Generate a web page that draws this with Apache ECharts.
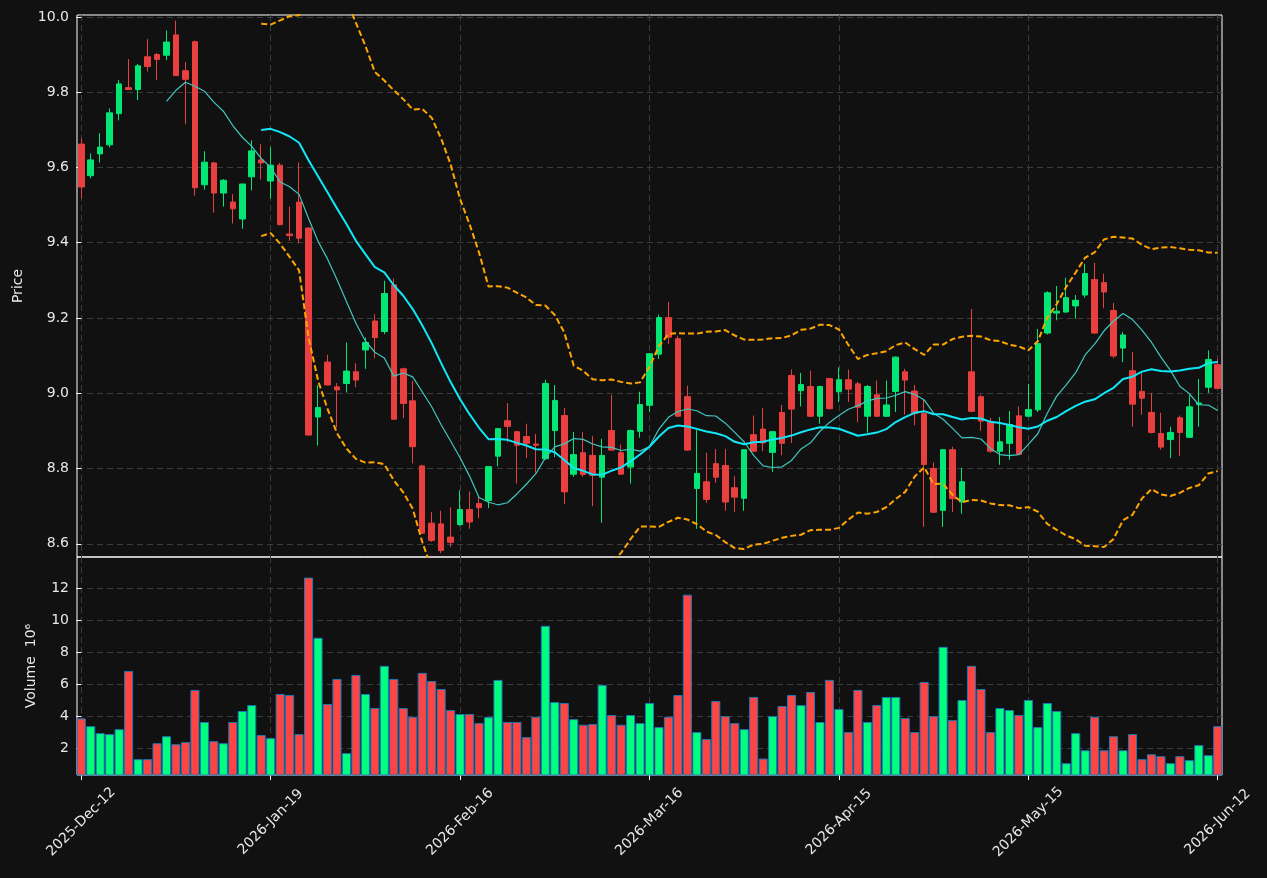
<!DOCTYPE html>
<html>
<head>
<meta charset="utf-8">
<script src="https://cdn.jsdelivr.net/npm/echarts@6/dist/echarts.min.js"></script>
<style>
html, body { margin: 0; padding: 0; background: #111111; }
#chart { width: 1267px; height: 878px; }
</style>
</head>
<body>
<div id="chart"></div>
<script>
// tick labels of the date axis, one every 20 bars
const tickLabels = ['2025-Dec-12', '2026-Jan-19', '2026-Feb-16', '2026-Mar-16', '2026-Apr-15', '2026-May-15', '2026-Jun-12'];

// daily prices
const opens = [
  9.662, 9.578, 9.636, 9.660, 9.743, 9.812, 9.807, 9.894, 9.900, 9.898,
  9.952, 9.857, 9.934, 9.554, 9.612, 9.532, 9.508, 9.463, 9.575, 9.620,
  9.564, 9.606, 9.423, 9.508, 9.439, 8.937, 9.083, 9.017, 9.026, 9.057,
  9.115, 9.192, 9.164, 9.288, 9.065, 8.980, 8.807, 8.655, 8.653, 8.618,
  8.651, 8.691, 8.707, 8.715, 8.833, 8.927, 8.898, 8.885, 8.865, 8.826,
  8.901, 8.941, 8.785, 8.842, 8.835, 8.777, 8.901, 8.842, 8.804, 8.899,
  8.968, 9.104, 9.201, 9.145, 8.991, 8.747, 8.765, 8.813, 8.808, 8.749,
  8.721, 8.890, 8.905, 8.843, 8.949, 9.047, 9.007, 9.018, 8.939, 9.039,
  9.004, 9.036, 9.025, 8.939, 8.996, 8.939, 9.005, 9.057, 9.006, 8.946,
  8.800, 8.689, 8.850, 8.711, 9.057, 8.991, 8.923, 8.846, 8.867, 8.940,
  8.939, 8.956, 9.160, 9.213, 9.216, 9.232, 9.261, 9.302, 9.294, 9.220,
  9.120, 9.060, 9.005, 8.949, 8.893, 8.877, 8.935, 8.883, 8.970, 9.016,
  9.076
];
const highs = [
  9.677, 9.637, 9.691, 9.757, 9.832, 9.888, 9.875, 9.941, 9.904, 9.964,
  9.990, 9.880, 9.937, 9.643, 9.615, 9.569, 9.529, 9.556, 9.672, 9.662,
  9.654, 9.612, 9.496, 9.613, 9.441, 9.022, 9.102, 9.027, 9.135, 9.080,
  9.148, 9.210, 9.299, 9.305, 9.068, 9.033, 8.810, 8.684, 8.688, 8.697,
  8.742, 8.739, 8.724, 8.806, 8.908, 8.974, 8.900, 8.919, 8.892, 9.036,
  9.022, 8.961, 8.897, 8.897, 8.886, 8.879, 8.996, 8.864, 8.903, 9.004,
  9.107, 9.209, 9.243, 9.153, 9.020, 8.902, 8.842, 8.852, 8.852, 8.780,
  8.852, 8.941, 8.961, 8.900, 8.969, 9.063, 9.054, 9.060, 9.020, 9.041,
  9.069, 9.063, 9.030, 9.022, 9.034, 9.034, 9.098, 9.065, 9.022, 8.983,
  8.816, 8.852, 8.858, 8.802, 9.224, 8.996, 8.935, 8.937, 8.953, 8.965,
  9.025, 9.171, 9.271, 9.285, 9.307, 9.261, 9.344, 9.347, 9.318, 9.240,
  9.163, 9.110, 9.056, 9.001, 8.948, 8.911, 8.941, 8.995, 9.038, 9.114,
  9.092
];
const lows = [
  9.517, 9.571, 9.613, 9.653, 9.725, 9.806, 9.779, 9.855, 9.832, 9.885,
  9.843, 9.715, 9.525, 9.541, 9.480, 9.496, 9.451, 9.437, 9.539, 9.568,
  9.517, 9.446, 9.405, 9.398, 8.887, 8.861, 9.021, 8.909, 9.002, 9.016,
  9.065, 9.093, 9.157, 8.930, 8.934, 8.814, 8.626, 8.605, 8.575, 8.591,
  8.648, 8.640, 8.668, 8.695, 8.806, 8.870, 8.760, 8.828, 8.789, 8.824,
  8.830, 8.706, 8.778, 8.778, 8.700, 8.656, 8.847, 8.783, 8.760, 8.882,
  8.950, 9.091, 9.131, 8.937, 8.847, 8.640, 8.709, 8.762, 8.688, 8.685,
  8.688, 8.845, 8.846, 8.791, 8.835, 8.868, 8.965, 8.937, 8.919, 8.957,
  8.976, 8.977, 8.923, 8.895, 8.937, 8.937, 8.950, 8.943, 8.915, 8.645,
  8.682, 8.645, 8.684, 8.680, 8.950, 8.900, 8.842, 8.810, 8.823, 8.836,
  8.937, 8.950, 9.156, 9.194, 9.214, 9.198, 9.254, 9.158, 9.226, 9.093,
  9.083, 8.911, 8.943, 8.893, 8.850, 8.828, 8.833, 8.881, 8.911, 9.001,
  9.011
];
const closes = [
  9.548, 9.620, 9.654, 9.745, 9.822, 9.807, 9.870, 9.868, 9.887, 9.933,
  9.844, 9.834, 9.546, 9.614, 9.532, 9.566, 9.490, 9.556, 9.644, 9.612,
  9.606, 9.448, 9.419, 9.412, 8.889, 8.962, 9.022, 9.009, 9.059, 9.035,
  9.135, 9.148, 9.265, 8.931, 8.973, 8.858, 8.628, 8.609, 8.582, 8.604,
  8.691, 8.658, 8.696, 8.805, 8.906, 8.912, 8.862, 8.867, 8.862, 9.026,
  8.981, 8.738, 8.837, 8.784, 8.782, 8.835, 8.849, 8.785, 8.901, 8.970,
  9.105, 9.201, 9.149, 8.939, 8.849, 8.787, 8.718, 8.777, 8.711, 8.724,
  8.850, 8.846, 8.868, 8.898, 8.867, 8.958, 9.023, 8.939, 9.018, 8.959,
  9.036, 9.011, 8.963, 9.018, 8.939, 8.969, 9.096, 9.035, 8.946, 8.811,
  8.684, 8.850, 8.720, 8.765, 8.952, 8.926, 8.846, 8.871, 8.917, 8.838,
  8.957, 9.132, 9.267, 9.218, 9.254, 9.247, 9.318, 9.160, 9.269, 9.099,
  9.155, 8.971, 8.987, 8.896, 8.857, 8.896, 8.896, 8.964, 8.974, 9.090,
  9.013
];
// volume in millions
const volumes = [
  3.87, 3.38, 2.94, 2.88, 3.19, 6.84, 1.31, 1.31, 2.31, 2.75,
  2.25, 2.38, 5.65, 3.64, 2.44, 2.31, 3.64, 4.33, 4.70, 2.82,
  2.63, 5.40, 5.33, 2.88, 12.69, 8.92, 4.77, 6.34, 1.69, 6.59,
  5.40, 4.52, 7.16, 6.34, 4.52, 3.97, 6.72, 6.21, 5.71, 4.39,
  4.14, 4.14, 3.57, 3.95, 6.28, 3.64, 3.64, 2.69, 3.97, 9.67,
  4.89, 4.83, 3.82, 3.47, 3.51, 5.96, 4.08, 3.47, 4.08, 3.57,
  4.83, 3.32, 3.97, 5.33, 11.62, 3.01, 2.57, 4.96, 4.01, 3.57,
  3.19, 5.21, 1.35, 4.01, 4.64, 5.33, 4.70, 5.52, 3.64, 6.28,
  4.45, 3.01, 5.65, 3.64, 4.70, 5.21, 5.21, 3.89, 3.01, 6.15,
  4.01, 8.35, 3.76, 5.02, 7.16, 5.71, 3.01, 4.52, 4.39, 4.08,
  5.02, 3.32, 4.83, 4.33, 1.06, 2.94, 1.87, 3.97, 1.87, 2.75,
  1.87, 2.88, 1.31, 1.62, 1.50, 1.06, 1.50, 1.25, 2.19, 1.56,
  3.38
];

// moving averages and bollinger bands (20, 2) from the closes
function rolling(values, n, fn) {
  const out = [];
  for (let i = n - 1; i < values.length; i++) {
    out.push([i, fn(values.slice(i - n + 1, i + 1))]);
  }
  return out;
}
const mean = a => a.reduce((s, v) => s + v, 0) / a.length;
const std = a => { const m = mean(a); return Math.sqrt(mean(a.map(v => (v - m) * (v - m)))); };

const ma10 = rolling(closes, 10, mean);
const ma20 = rolling(closes, 20, mean);
const bbUpper = rolling(closes, 20, a => mean(a) + 2 * std(a));
const bbLower = rolling(closes, 20, a => mean(a) - 2 * std(a));

const candleData = opens.map((o, i) => [i, o, closes[i], lows[i], highs[i]]);
const volumeData = volumes.map((v, i) => ({
  value: [i, v],
  itemStyle: { color: closes[i] >= opens[i] ? '#00ff7f' : '#ff4444' }
}));

const font = 'DejaVu Sans';
const textColor = '#e8e8e8';
const upColor = '#02e774';
const downColor = '#e83f3f';
const gridLine = {
  show: true, showMinLine: false, showMaxLine: false,
  lineStyle: { color: '#3c3c3c', type: [6, 4], width: 1 }
};
const xMin = -0.45, xMax = 120.45;

const chart = echarts.init(document.getElementById('chart'), null, { renderer: 'canvas' });

const option = {
  backgroundColor: '#111111',
  animation: false,
  grid: [
    { left: 77, right: 45, top: 15, height: 542, show: true, borderColor: '#ffffff', borderWidth: 1 },
    { left: 77, right: 45, top: 557, height: 218, show: true, borderColor: '#ffffff', borderWidth: 1 }
  ],
  xAxis: [
    {
      type: 'value', gridIndex: 0, min: xMin, max: xMax,
      splitNumber: 6, minInterval: 20, maxInterval: 20,
      axisLine: { show: false }, axisTick: { show: false }, axisLabel: { show: false },
      splitLine: gridLine
    },
    {
      type: 'value', gridIndex: 1, min: xMin, max: xMax,
      splitNumber: 6, minInterval: 20, maxInterval: 20,
      axisLine: { show: false },
      axisTick: { show: true, length: 5, lineStyle: { color: '#ffffff' } },
      axisLabel: {
        formatter: v => {
          const k = Math.round(v / 20);
          return Math.abs(v - k * 20) < 1e-6 ? tickLabels[k] : '';
        },
        rotate: 45, align: 'center', verticalAlign: 'middle', margin: 47,
        color: textColor, fontSize: 14, fontFamily: font,
        showMinLabel: false, showMaxLabel: false
      },
      splitLine: gridLine
    }
  ],
  yAxis: [
    {
      type: 'value', gridIndex: 0, min: 8.565, max: 10.005,
      splitNumber: 7, minInterval: 0.2, maxInterval: 0.2,
      name: 'Price', nameLocation: 'middle', nameGap: 52, nameRotate: 90,
      nameTextStyle: { color: textColor, fontSize: 14, fontFamily: font },
      axisLine: { show: false },
      axisTick: { show: true, length: 5, lineStyle: { color: '#ffffff' } },
      axisLabel: {
        formatter: v => v.toFixed(1), color: textColor, fontSize: 14, fontFamily: font,
        margin: 8, showMinLabel: false, showMaxLabel: false
      },
      splitLine: gridLine
    },
    {
      type: 'value', gridIndex: 1, min: 0.32, max: 13.98,
      splitNumber: 7, minInterval: 2, maxInterval: 2,
      name: 'Volume  10\u2076', nameLocation: 'middle', nameGap: 39, nameRotate: 90,
      nameTextStyle: { color: textColor, fontSize: 14, fontFamily: font },
      axisLine: { show: false },
      axisTick: { show: true, length: 5, lineStyle: { color: '#ffffff' } },
      axisLabel: {
        color: textColor, fontSize: 14, fontFamily: font,
        margin: 8, showMinLabel: false, showMaxLabel: false
      },
      splitLine: gridLine
    }
  ],
  series: [
    {
      name: 'Candles', type: 'candlestick', xAxisIndex: 0, yAxisIndex: 0,
      data: candleData, encode: { x: 0, y: [1, 2, 3, 4] },
      barWidth: 6,
      itemStyle: { color: upColor, color0: downColor, borderColor: upColor, borderColor0: downColor, borderWidth: 1 }
    },
    {
      name: 'BB upper', type: 'line', xAxisIndex: 0, yAxisIndex: 0, data: bbUpper,
      symbol: 'none', lineStyle: { color: '#ffa500', width: 2, type: [6, 3] }
    },
    {
      name: 'BB lower', type: 'line', xAxisIndex: 0, yAxisIndex: 0, data: bbLower,
      symbol: 'none', lineStyle: { color: '#ffa500', width: 2, type: [6, 3] }
    },
    {
      name: 'MA10', type: 'line', xAxisIndex: 0, yAxisIndex: 0, data: ma10,
      symbol: 'none', lineStyle: { color: '#40c8c0', width: 1.2 }
    },
    {
      name: 'MA20', type: 'line', xAxisIndex: 0, yAxisIndex: 0, data: ma20,
      symbol: 'none', lineStyle: { color: '#10e8f8', width: 2 }
    },
    {
      name: 'Volume', type: 'bar', xAxisIndex: 1, yAxisIndex: 1, data: volumeData,
      barWidth: '96%',
      itemStyle: { borderColor: '#1f77b4', borderWidth: 1 }
    }
  ]
};

chart.setOption(option);
</script>
</body>
</html>
